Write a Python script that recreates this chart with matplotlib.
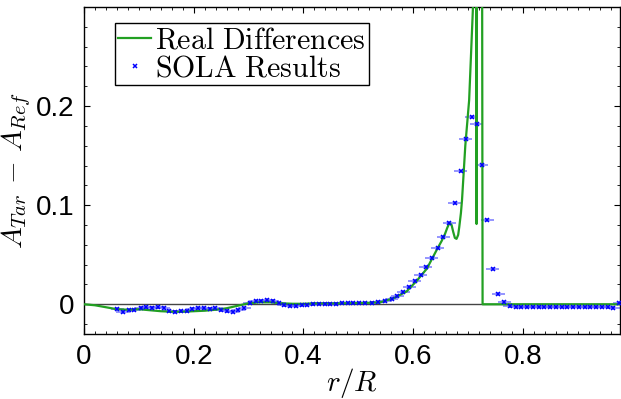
#SOLA inversion vs real differences

import numpy as np
import matplotlib.pyplot as plt

plt.rcParams['mathtext.fontset'] = 'cm'
plt.rcParams['font.family'] = ['Liberation Sans', 'DejaVu Sans']

green = "#22a022"
blue = "#0000ff"

'''---Data---'''
# real differences (green curve)
r_real = [0.0, 0.02, 0.04, 0.06, 0.08, 0.10, 0.12, 0.14, 0.16, 0.18, 0.20, 0.22, 0.24,
          0.26, 0.28, 0.30, 0.32, 0.34, 0.36, 0.38, 0.40, 0.42, 0.44, 0.46, 0.48, 0.50,
          0.52, 0.54, 0.564, 0.588, 0.607, 0.625, 0.643, 0.652, 0.658, 0.662, 0.666,
          0.670, 0.673, 0.676, 0.679, 0.682, 0.684, 0.687, 0.689, 0.695, 0.702, 0.709,
          0.7145, 0.7155, 0.7165, 0.7255, 0.7265, 0.80, 0.90, 0.98]
dA_real = [0.0, -0.001, -0.003, -0.005, -0.0055, -0.005, -0.006, -0.007, -0.0075, -0.0075,
           -0.007, -0.0065, -0.0055, -0.004, -0.0015, 0.001, 0.002, 0.002, 0.001, 0.0005,
           0.0005, 0.001, 0.001, 0.001, 0.001, 0.0012, 0.0015, 0.002, 0.006, 0.013, 0.024,
           0.036, 0.055, 0.064, 0.071, 0.077, 0.082, 0.080, 0.073, 0.067, 0.066, 0.070,
           0.078, 0.092, 0.105, 0.160, 0.206, 0.300, 0.400, 0.081, 0.400, 0.400, 0.0,
           0.0, 0.0, 0.0]

# SOLA results (blue crosses)
r_sola = [0.061, 0.071, 0.082, 0.092, 0.103, 0.113, 0.124, 0.134, 0.145, 0.155, 0.166,
          0.176, 0.187, 0.197, 0.208, 0.218, 0.229, 0.239, 0.250, 0.260, 0.271, 0.281,
          0.292, 0.302, 0.313, 0.323, 0.334, 0.344, 0.355, 0.365, 0.376, 0.386, 0.397,
          0.407, 0.418, 0.428, 0.439, 0.449, 0.460, 0.470, 0.481, 0.491, 0.502, 0.512,
          0.525, 0.536, 0.549, 0.561, 0.571, 0.582, 0.593, 0.603, 0.614, 0.623, 0.634,
          0.645, 0.655, 0.666, 0.676, 0.687, 0.696, 0.707, 0.716, 0.725, 0.735, 0.745,
          0.755, 0.766, 0.776, 0.787, 0.797, 0.808, 0.818, 0.829, 0.839, 0.850, 0.860,
          0.871, 0.881, 0.892, 0.902, 0.913, 0.923, 0.934, 0.944, 0.955, 0.965, 0.976]
dA_sola = [-0.005, -0.008, -0.006, -0.006, -0.004, -0.003, -0.004, -0.003, -0.004, -0.007,
           -0.008, -0.007, -0.007, -0.005, -0.004, -0.004, -0.005, -0.004, -0.006, -0.007,
           -0.008, -0.006, -0.004, 0.001, 0.003, 0.003, 0.004, 0.003, 0.001, -0.001,
           -0.002, -0.002, -0.001, -0.001, 0.0, 0.0, 0.0, 0.0, 0.0, 0.001, 0.001, 0.001,
           0.001, 0.001, 0.001, 0.002, 0.003, 0.005, 0.008, 0.012, 0.017, 0.023, 0.030,
           0.038, 0.047, 0.057, 0.068, 0.082, 0.102, 0.134, 0.167, 0.189, 0.182, 0.141,
           0.085, 0.036, 0.010, 0.002, -0.002, -0.003, -0.003, -0.003, -0.003, -0.003,
           -0.003, -0.003, -0.003, -0.003, -0.003, -0.003, -0.003, -0.003, -0.003, -0.003,
           -0.003, -0.003, -0.004, 0.001]

'''---Plot---'''
fig = plt.figure(figsize=(6.21, 3.99), dpi=100)
ax = fig.add_axes([0.1353, 0.1629, 0.8631, 0.8196])

ax.axhline(0, color="#444444", lw=1.0, zorder=1)
ax.errorbar(r_sola, dA_sola, xerr=0.012, yerr=0.002, fmt='none',
            ecolor=(0.25, 0.25, 1.0, 0.6), elinewidth=1.3, capsize=0, zorder=2)
ax.plot(r_real, dA_real, '-', color=green, lw=1.6, zorder=3,
        label=r"$\mathrm{Real\ Differences}$")
ax.plot(r_sola, dA_sola, 'x', color=blue, ms=3.5, mew=1.1, zorder=4,
        label=r"$\mathrm{SOLA\ Results}$")

ax.set_xlim(0, 0.977)
ax.set_ylim(-0.03, 0.30)
ax.set_xticks([0, 0.2, 0.4, 0.6, 0.8])
ax.set_xticklabels(["0", "0.2", "0.4", "0.6", "0.8"])
ax.set_yticks([0, 0.1, 0.2])
ax.set_yticklabels(["0", "0.1", "0.2"])
ax.set_xticks(np.arange(0, 0.98, 0.02), minor=True)
ax.set_yticks(np.arange(-0.02, 0.30, 0.02), minor=True)
ax.tick_params(which='both', direction='in', top=True, right=True, labelsize=20, pad=7)
ax.tick_params(which='major', length=4, width=0.8)
ax.tick_params(which='minor', length=2, width=0.6)
for s in ax.spines.values():
    s.set_linewidth(1.0)

ax.set_xlabel(r"$r/R$", fontsize=21, labelpad=-3)
ax.set_ylabel(r"$A_{Tar}\,-\,A_{Ref}$", fontsize=21, labelpad=2)

leg = ax.legend(loc='upper left', bbox_to_anchor=(0.058, 0.95), fontsize=21.5,
                handlelength=1.1, handletextpad=0.15, borderpad=0.1, labelspacing=0.0,
                fancybox=False, framealpha=1, edgecolor='black', borderaxespad=0)
leg.get_frame().set_linewidth(1.0)

plt.savefig("out.png", dpi=100)
